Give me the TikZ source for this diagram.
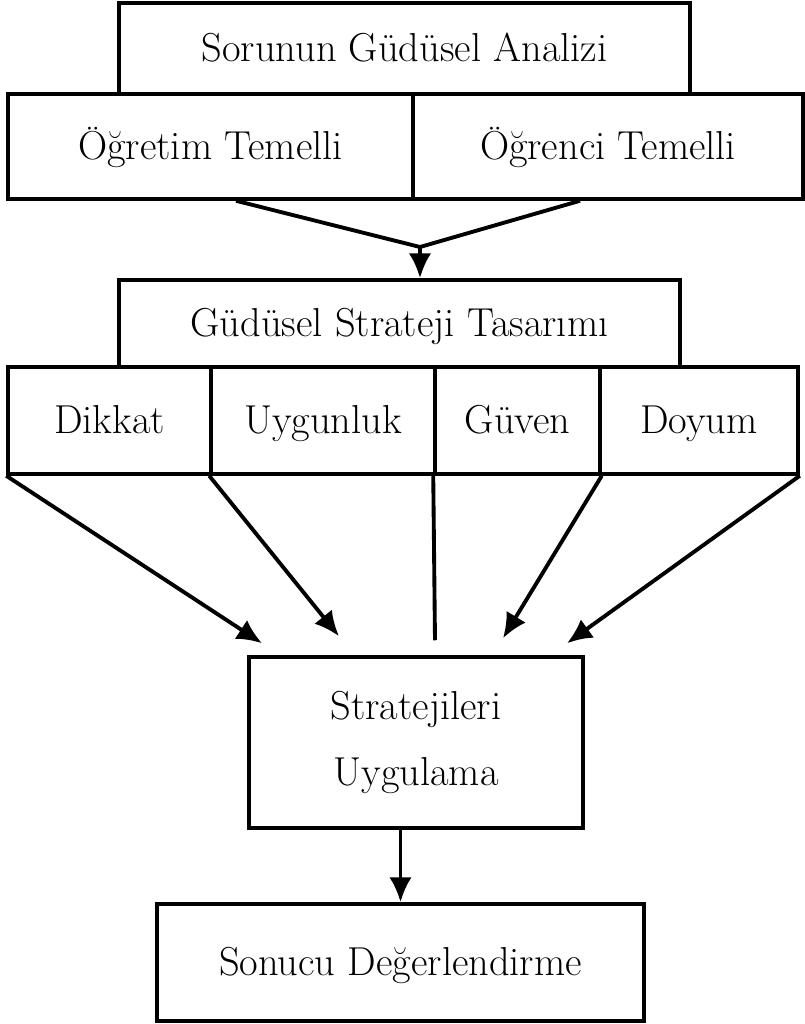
\documentclass[tikz,border=0pt]{standalone}
\usepackage{fontspec}
\usetikzlibrary{arrows.meta}

\tikzset{
  kutu/.style={draw, line width=2pt, inner sep=0pt, text height=20pt, text depth=5pt, font=\fontsize{23}{38}\selectfont},
  ok/.style={line width=2.2pt, -{Latex[length=5mm,width=4.5mm]}},
  cizgi/.style={line width=2.2pt}
}

\begin{document}
\begin{tikzpicture}
\useasboundingbox (0,0) rectangle (16.1,-20.48);

\node[kutu, minimum width=11.42cm, minimum height=1.82cm] (analiz) at (8.09,-0.97) {Sorunun Güdüsel Analizi};
\node[kutu, minimum width=8.10cm, minimum height=2.10cm] (ogretim) at (4.21,-2.93) {Öğretim Temelli};
\node[kutu, minimum width=7.80cm, minimum height=2.10cm] (ogrenci) at (12.16,-2.93) {Öğrenci Temelli};

\coordinate (birles) at (8.40,-4.94);

\node[kutu, minimum width=11.22cm, minimum height=1.74cm] (tasarim) at (7.99,-6.47) {Güdüsel Strateji Tasarımı};
\node[kutu, minimum width=4.06cm, minimum height=2.14cm] (dikkat) at (2.19,-8.41) {Dikkat};
\node[kutu, minimum width=4.48cm, minimum height=2.14cm] (uygunluk) at (6.46,-8.41) {Uygunluk};
\node[kutu, minimum width=3.30cm, minimum height=2.14cm] (guven) at (10.35,-8.41) {Güven};
\node[kutu, minimum width=3.96cm, minimum height=2.14cm] (doyum) at (13.98,-8.41) {Doyum};

\node[kutu, minimum width=6.68cm, minimum height=3.42cm, text height=, text depth=, align=center] (uygulama) at (8.32,-14.85) {Stratejileri\\Uygulama};
\node[kutu, minimum width=9.74cm, minimum height=2.34cm] (sonuc) at (8.01,-19.25) {Sonucu Değerlendirme};

\path
([xshift=0.51cm]ogretim.south) edge[cizgi] (birles)
([xshift=-0.56cm]ogrenci.south) edge[cizgi] (birles)
(birles) edge[ok] (birles |- tasarim.north)
(dikkat.south west) edge[ok] ([xshift=-3.08cm,yshift=0.24cm]uygulama.north)
(uygunluk.south west) edge[ok] ([xshift=-1.54cm,yshift=0.38cm]uygulama.north)
(guven.south west) edge[cizgi] ([xshift=0.38cm,yshift=0.30cm]uygulama.north)
(guven.south east) edge[ok] ([xshift=1.74cm,yshift=0.34cm]uygulama.north)
(doyum.south east) edge[ok] ([xshift=3.02cm,yshift=0.24cm]uygulama.north)
(uygulama.south -| sonuc.north) edge[ok] (sonuc.north);
\end{tikzpicture}
\end{document}
